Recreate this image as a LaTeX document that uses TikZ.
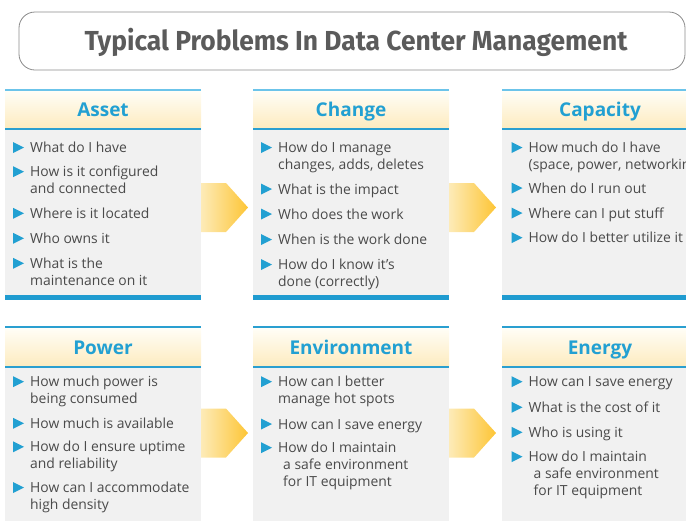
\documentclass[tikz,border=0pt]{standalone}
\usepackage{fontspec}
\setmainfont{Open Sans}
\newfontfamily\titlefont[FakeStretch=0.96]{Fira Sans}
\definecolor{titlegray}{HTML}{5B5B5B}
\definecolor{bordergray}{HTML}{8A8A8A}
\definecolor{textgray}{HTML}{4A4A4A}
\definecolor{headblue}{HTML}{22A0D2}
\definecolor{lineblue}{HTML}{6CC4EA}
\definecolor{midblue}{HTML}{2A9FD0}
\definecolor{barblue}{HTML}{1F9BD0}
\definecolor{bodygray}{HTML}{F1F1F1}
\definecolor{hdtop}{HTML}{FFFEF8}
\definecolor{hdbot}{HTML}{FDEBBE}
\definecolor{arrL}{HTML}{FDEBB8}
\definecolor{arrR}{HTML}{FDC535}
\tikzset{
  itemtext/.style={font=\fontsize{13.9}{16.7}\selectfont, text=textgray, inner sep=0pt, anchor=base west},
  headtext/.style={font=\fontsize{19}{22}\selectfont\bfseries, text=headblue, inner sep=0pt, anchor=base},
  titletext/.style={font=\titlefont\fontsize{27.5}{30}\selectfont\bfseries, text=titlegray, inner sep=0pt, anchor=base},
  bullet/.style={fill=headblue},
}
\newcommand\bitem[4]{%
  \fill[bullet] (#2,#3-10.5) -- (#2+11,#3-5) -- (#2,#3+0.5) -- cycle;
  \node[itemtext] (#1) at (#2+17,#3) {\begin{tabular}[t]{@{}l@{}}#4\end{tabular}};}
\newcommand\chev[3]{%
  \shade[left color=arrL, right color=arrR] (#2,#3-24.5) -- (#2+25,#3-24.5) -- (#2+47,#3) -- (#2+25,#3+24.5) -- (#2,#3+24.5) -- cycle;
  \coordinate (#1) at (#2+23,#3);}
\begin{document}
\begin{tikzpicture}[x=1pt,y=-1pt]
\useasboundingbox (0,0) rectangle (686,520);
\clip (0,0) rectangle (686,520);
% title
\draw[bordergray, line width=0.8pt, rounded corners=16pt] (19,12) rectangle (685,70);
\node[titletext] (title) at (356,50) {Typical Problems In Data Center Management};
% columns row 1
\foreach \xl in {5,253,502} {
  \shade[top color=hdtop, bottom color=hdbot] (\xl,90) rectangle ++(196,39);
  \fill[bodygray] (\xl,129) rectangle ++(196,166);
  \fill[barblue] (\xl,295) rectangle ++(196,5);
  \draw[lineblue, line width=1.6pt] (\xl,90) -- ++(196,0);
  \draw[midblue, line width=1.3pt] (\xl,129) -- ++(196,0);
}
% columns row 2
\foreach \xl in {5,253,502} {
  \shade[top color=hdtop, bottom color=hdbot] (\xl,327) rectangle ++(196,40);
  \fill[bodygray] (\xl,367) rectangle ++(196,160);
  \draw[midblue, line width=1.3pt] (\xl,327) -- ++(196,0);
  \draw[midblue, line width=1.3pt] (\xl,367) -- ++(196,0);
}
% chevrons
\chev{c1}{201}{207.5}
\chev{c2}{449}{207.5}
\chev{c3}{201}{433}
\chev{c4}{449}{433}
% headers
\node[headtext] (hAsset) at (103,116) {Asset};
\node[headtext] (hChange) at (351,116) {Change};
\node[headtext] (hCap) at (600,116) {Capacity};
\node[headtext] (hPower) at (103,354) {Power};
\node[headtext] (hEnv) at (351,354) {Environment};
\node[headtext] (hEnergy) at (600,354) {Energy};
% Asset
\bitem{a1}{13}{152.5}{What do I have}
\bitem{a2}{13}{176.7}{How is it configured\\and connected}
\bitem{a3}{13}{218.3}{Where is it located}
\bitem{a4}{13}{243.3}{Who owns it}
\bitem{a5}{13}{268.3}{What is the\\maintenance on it}
% Change
\bitem{b1}{261}{152.5}{How do I manage\\changes, adds, deletes}
\bitem{b2}{261}{194}{What is the impact}
\bitem{b3}{261}{219}{Who does the work}
\bitem{b4}{261}{244.5}{When is the work done}
\bitem{b5}{261}{269.5}{How do I know it’s\\done (correctly)}
% Capacity
\bitem{d1}{511.5}{152.5}{How much do I have\\(space, power, networking)}
\bitem{d2}{511.5}{193}{When do I run out}
\bitem{d3}{511.5}{218}{Where can I put stuff}
\bitem{d4}{511.5}{242.7}{How do I better utilize it}
% Power
\bitem{p1}{13}{386.7}{How much power is\\being consumed}
\bitem{p2}{13}{428.3}{How much is available}
\bitem{p3}{13}{451.8}{How do I ensure uptime\\and reliability}
\bitem{p4}{13}{492.5}{How can I accommodate\\high density}
% Environment
\bitem{e1}{261}{386.7}{How can I better\\manage hot spots}
\bitem{e2}{261}{429}{How can I save energy}
\bitem{e3}{261}{452.7}{How do I maintain\\\hspace{5pt}a safe environment\\\hspace{5pt}for IT equipment}
% Energy
\bitem{g1}{511.5}{386.7}{How can I save energy}
\bitem{g2}{511.5}{412.3}{What is the cost of it}
\bitem{g3}{511.5}{437.3}{Who is using it}
\bitem{g4}{511.5}{461.7}{How do I maintain\\\hspace{5pt}a safe environment\\\hspace{5pt}for IT equipment}
\end{tikzpicture}
\end{document}
